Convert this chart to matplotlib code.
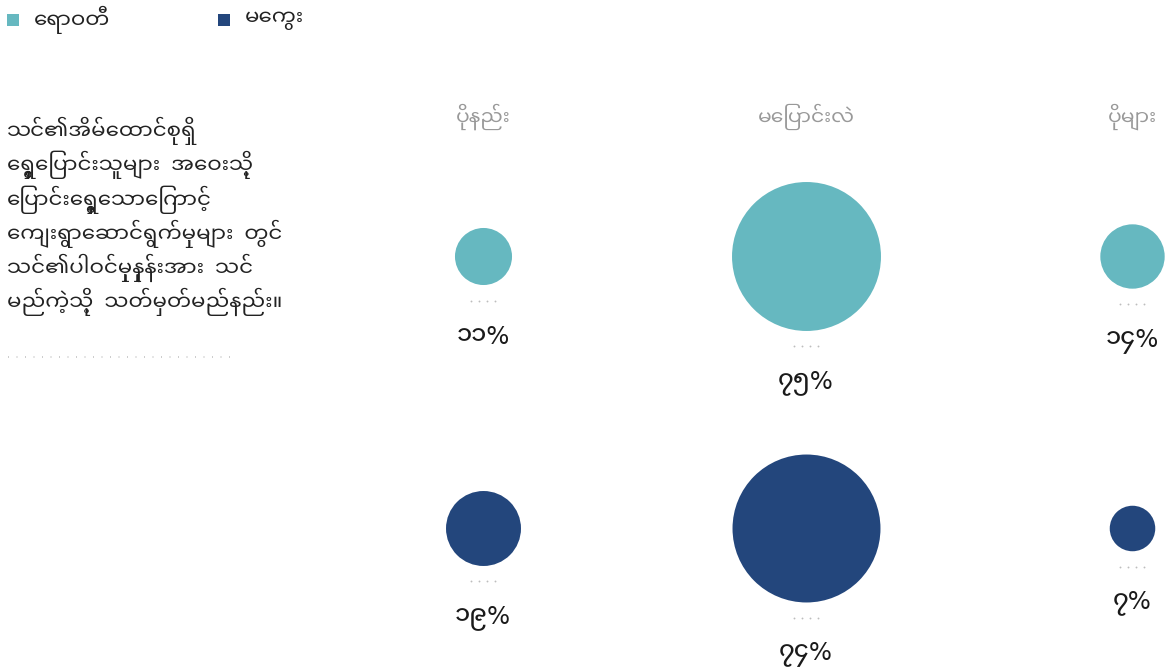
import re
import matplotlib
matplotlib.use("Agg")
import matplotlib.pyplot as plt

FAMILY = ["Noto Sans Myanmar UI", "DejaVu Sans"]

# data
regions = ["ရောဝတီ", "မကွေး"]
answers = ["ပိုနည်း", "မပြောင်းလဲ", "ပိုများ"]
values_ayeyarwady = [11, 75, 14]
values_magway = [19, 74, 7]
labels_ayeyarwady = ["၁၁%", "၇၅%", "၁၄%"]
labels_magway = ["၁၉%", "၇၄%", "၇%"]
question = ["သင်၏အိမ်ထောင်စုရှိ",
            "ရွှေ့ပြောင်းသူများ  အဝေးသို့",
            "ပြောင်းရွှေ့သောကြောင့်",
            "ကျေးရွာဆောင်ရွက်မှုများ  တွင်",
            "သင်၏ပါဝင်မှုနှုန်းအား  သင်",
            "မည်ကဲ့သို့  သတ်မှတ်မည်နည်း။"]

colors = ["#66b8c0", "#23467c"]

# matplotlib has no complex shaping, so put the pre-base vowel and medial ra
# in front of the consonant by hand
cluster = re.compile("([\u1000-\u102A\u103F])((?:\u1039[\u1000-\u1021])?)([\u103B-\u103E]*)(\u1031?)")


def visual(s):
    def fix(m):
        c, stack, med, e = m.groups()
        ra = "\u103C" if "\u103C" in med else ""
        return e + ra + c + stack + med.replace("\u103C", "")
    return cluster.sub(fix, s)


fig = plt.figure(figsize=(11.66, 6.72), dpi=100)
ax = fig.add_axes([0, 0, 1, 1])
ax.set_xlim(0, 1166)
ax.set_ylim(672, 0)
ax.axis("off")

col_x = [483, 806, 1132]
row_y = [256, 528]
px = 100 / 72  # pixels per point
k = 8.6  # circle radius in px per sqrt(percent)

for x, a in zip(col_x, answers):
    ax.text(x, 117, visual(a), ha="center", va="center", fontsize=14.6, color="#999999", family=FAMILY)

for ry, vals, labs, c in zip(row_y, [values_ayeyarwady, values_magway],
                             [labels_ayeyarwady, labels_magway], colors):
    for x, v, lab in zip(col_x, vals, labs):
        r = k * v ** 0.5
        ax.scatter([x - 12, x - 4, x + 4, x + 12], [ry + r + 16] * 4, s=1.8, color="#bdbdbd", linewidths=0)
        ax.scatter([x], [ry], s=(2 * r / px) ** 2, color=c, linewidths=0)
        ax.text(x, ry + r + 52, lab, ha="center", va="center", fontsize=17.5, color="#1a1a1a",
                family=FAMILY, fontweight="medium")

# legend
for lx, name, c in zip([13, 224], regions, colors):
    ax.scatter([lx], [20], marker="s", s=80, color=c, linewidths=0)
    ax.text(lx + 21, 20, visual(name), ha="left", va="center", fontsize=15.4, color="#222222", family=FAMILY)

# question text
for i, line in enumerate(question):
    ax.text(7, 131 + i * 34.2, visual(line), ha="left", va="center", fontsize=15.4, color="#222222", family=FAMILY)
ax.plot([8, 230], [357, 357], linestyle=(0, (0.6, 4.5)), color="#c4c4c4", linewidth=1.2)

fig.savefig("out.png", dpi=100)
